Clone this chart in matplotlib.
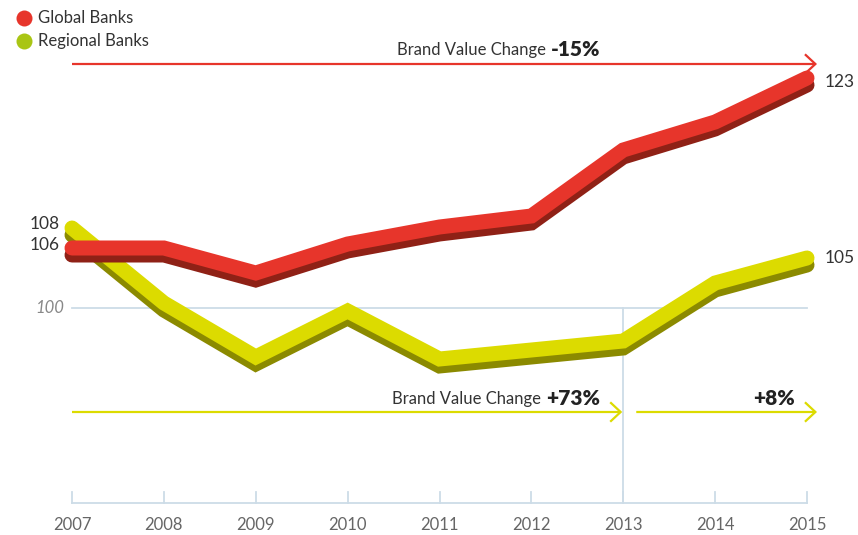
import matplotlib
matplotlib.use("Agg")
import matplotlib.pyplot as plt
import matplotlib.transforms as mtransforms
from matplotlib.patches import FancyArrowPatch

# ---- data -------------------------------------------------------------
years = [2007, 2008, 2009, 2010, 2011, 2012, 2013, 2014, 2015]
global_banks = [106, 106, 103.5, 106.4, 108.1, 109.2, 115.8, 118.6, 123]
regional_banks = [108, 100.5, 95.1, 99.7, 94.9, 95.8, 96.7, 102.5, 105]
series_names = ["Global Banks", "Regional Banks"]
baseline_value = 100
split_year = 2013
global_change = "-15%"
regional_change_early = "+73%"
regional_change_late = "+8%"
change_caption = "Brand Value Change"

# ---- style ------------------------------------------------------------
RED = "#e7352b"
RED_DARK = "#8f2116"
YELLOW = "#dcdb00"
YELLOW_DARK = "#8b8a00"
LEGEND_GREEN = "#a9c514"
GRID = "#cddce7"
TEXT = "#333333"
FONT = "Lato"

W, H, DPI = 858, 535, 100
fig = plt.figure(figsize=(W / DPI, H / DPI), dpi=DPI)
fig.patch.set_facecolor("white")
ax = fig.add_axes([0, 0, 1, 1])
ax.set_xlim(2006.2163, 2015.555)
ax.set_ylim(77.3, 130.8)
ax.axis("off")


def px_to_data(px, py):
    """Pixel position (origin top-left) -> data coordinates."""
    return ax.transData.inverted().transform((px, H - py))


def py_to_value(py):
    return px_to_data(0, py)[1]


# ---- frame: baseline, ticks, 100 reference ----------------------------
base_y = py_to_value(503)
tick_top = py_to_value(492)
ax.plot([years[0], years[-1]], [base_y, base_y], color=GRID, lw=1.3, zorder=1)
for yr in years:
    ax.plot([yr, yr], [base_y, tick_top], color=GRID, lw=1.3, zorder=1)
    ax.text(yr, py_to_value(525), str(yr), ha="center", va="center",
            fontsize=12, color="#666666", family=FONT)
ax.plot([years[0], years[-1]], [baseline_value, baseline_value],
        color=GRID, lw=1.3, zorder=1)
ax.plot([split_year, split_year], [base_y, baseline_value],
        color=GRID, lw=1.3, zorder=1)
ax.text(px_to_data(64, 0)[0], baseline_value, str(baseline_value),
        ha="right", va="center", fontsize=12, color="#888888",
        style="italic", family=FONT)

# ---- extruded lines ----------------------------------------------------
shadow_tr = mtransforms.offset_copy(ax.transData, fig=fig, x=0, y=-7,
                                    units="dots")
LW = 15 * 72 / DPI
line_kw = dict(lw=LW, solid_capstyle="round", solid_joinstyle="miter")
ax.plot(years, regional_banks, color=YELLOW_DARK, transform=shadow_tr,
        zorder=3, **line_kw)
ax.plot(years, regional_banks, color=YELLOW, zorder=4, **line_kw)
ax.plot(years, global_banks, color=RED_DARK, transform=shadow_tr,
        zorder=5, **line_kw)
ax.plot(years, global_banks, color=RED, zorder=6, **line_kw)

# end-point labels
left_x = px_to_data(60, 0)[0]
right_x = px_to_data(825, 0)[0]
label_kw = dict(textcoords="offset points", va="center", fontsize=12.5,
                color=TEXT, family=FONT)
ax.annotate(f"{regional_banks[0]:g}", (left_x, regional_banks[0]),
            xytext=(0, 3), ha="right", **label_kw)
ax.annotate(f"{global_banks[0]:g}", (left_x, global_banks[0]),
            xytext=(0, 2), ha="right", **label_kw)
ax.annotate(f"{global_banks[-1]:g}", (right_x, global_banks[-1]),
            xytext=(0, -3), ha="left", **label_kw)
ax.annotate(f"{regional_banks[-1]:g}", (right_x, regional_banks[-1]),
            xytext=(0, 0), ha="left", **label_kw)


# ---- change arrows -----------------------------------------------------
def arrow(x0_px, x1_px, py, color):
    p0 = px_to_data(x0_px, py)
    p1 = px_to_data(x1_px, py)
    ax.add_patch(FancyArrowPatch(
        p0, p1, arrowstyle="->,head_length=0.75,head_width=0.7",
        mutation_scale=10, color=color, lw=1.6, shrinkA=0, shrinkB=0,
        zorder=2, joinstyle="miter", capstyle="butt"))


def change_label(right_px, base_py, value, caption=None):
    x, y = px_to_data(right_px, base_py)
    bold = ax.text(x, y, value, ha="right", va="baseline", fontsize=15,
                   fontweight="heavy", color="#222222", family=FONT)
    if caption:
        ax.annotate(caption, xy=(0, 0), xycoords=bold,
                    xytext=(-3.5, 1.0), textcoords="offset points",
                    ha="right", va="bottom", fontsize=12, color=TEXT,
                    family=FONT)


x2007 = ax.transData.transform((years[0], 0))[0]
x2013 = ax.transData.transform((split_year, 0))[0]

arrow(x2007, 817, 64, RED)
change_label(600, 56, global_change, change_caption)

arrow(x2007, x2013 - 1, 412, YELLOW)
arrow(x2013 + 13, 817, 412, YELLOW)
change_label(600, 405, regional_change_early, change_caption)
change_label(795, 405, regional_change_late)

# ---- legend ------------------------------------------------------------
for name, col, cy in zip(series_names, [RED, LEGEND_GREEN], [18, 41]):
    cx, cyd = px_to_data(24, cy)
    ax.plot([cx], [cyd], marker="o", markersize=16 * 72 / DPI,
            color=col, markeredgewidth=0, zorder=7)
    fig.text(38 / W, 1 - cy / H, name, ha="left", va="center",
             fontsize=12, color=TEXT, family=FONT)

fig.savefig("out.png", dpi=DPI, facecolor="white")
